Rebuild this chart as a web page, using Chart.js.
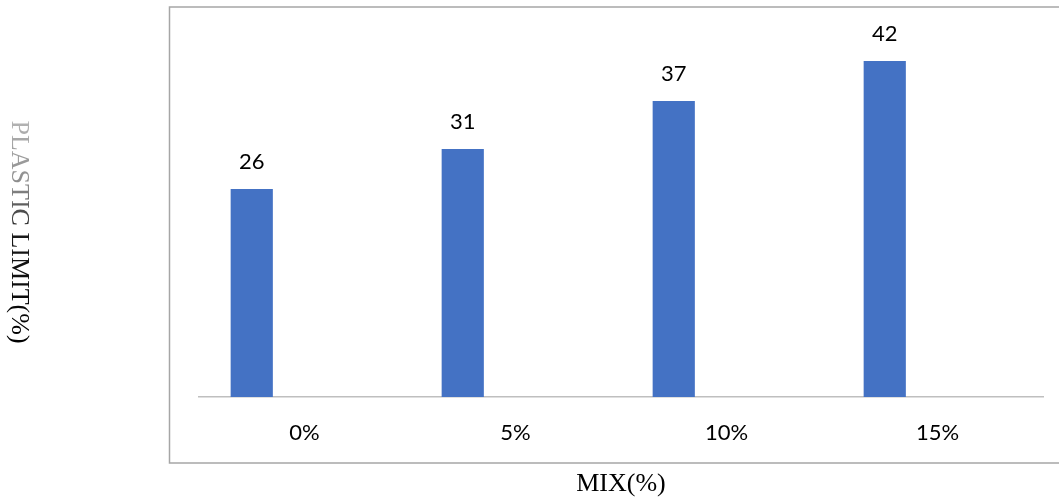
<!DOCTYPE html>
<html>
<head>
<meta charset="utf-8">
<script src="https://cdn.jsdelivr.net/npm/chart.js@4/dist/chart.umd.min.js"></script>
<style>
html,body{margin:0;padding:0;background:#fff;}
#wrap{width:1059px;height:499px;position:relative;}
</style>
</head>
<body>
<div id="wrap"><canvas id="c" width="1059" height="499"></canvas></div>
<script>
const categories = ['0%', '5%', '10%', '15%'];
const plasticLimit = [26, 31, 37, 42];
const emptySeries = [null, null, null, null];
const xTitle = 'MIX(%)';
const yTitle = 'PLASTIC LIMIT(%)';

const decor = {
  id: 'decor',
  beforeDraw(chart) {
    const ctx = chart.ctx;
    ctx.save();
    ctx.strokeStyle = '#a6a6a6';
    ctx.lineWidth = 1.5;
    ctx.beginPath();
    ctx.moveTo(1070, 7);
    ctx.lineTo(169.5, 7);
    ctx.lineTo(169.5, 463);
    ctx.lineTo(1070, 463);
    ctx.stroke();
    ctx.restore();
  },
  afterDraw(chart) {
    const ctx = chart.ctx;
    const ca = chart.chartArea;
    ctx.save();
    ctx.font = '26px "Liberation Serif"';
    ctx.fillStyle = '#000';
    ctx.textAlign = 'center';
    ctx.textBaseline = 'middle';
    ctx.fillText(xTitle, (ca.left + ca.right) / 2, 484);
    ctx.translate(19, 232);
    ctx.rotate(Math.PI / 2);
    const w = ctx.measureText(yTitle).width;
    const g = ctx.createLinearGradient(-w / 2, 0, w / 2, 0);
    g.addColorStop(0, '#b4b4b4');
    g.addColorStop(0.3, '#8a8a8a');
    g.addColorStop(0.5, '#1a1a1a');
    g.addColorStop(1, '#000');
    ctx.fillStyle = g;
    ctx.fillText(yTitle, 0, 0);
    ctx.restore();
  },
  afterDatasetsDraw(chart) {
    const ctx = chart.ctx;
    const meta = chart.getDatasetMeta(0);
    ctx.save();
    ctx.font = '22px Lato';
    ctx.fillStyle = '#000';
    ctx.textAlign = 'center';
    ctx.textBaseline = 'middle';
    meta.data.forEach((el, i) => {
      ctx.fillText(String(plasticLimit[i]), el.x, el.y - 27);
    });
    ctx.restore();
  }
};

new Chart(document.getElementById('c'), {
  type: 'bar',
  data: {
    labels: categories,
    datasets: [
      { label: 'PLASTIC LIMIT', data: plasticLimit, backgroundColor: '#4472C4', categoryPercentage: 1.0, barPercentage: 0.4 },
      { label: 'empty', data: emptySeries, backgroundColor: '#ED7D31', categoryPercentage: 1.0, barPercentage: 0.4 }
    ]
  },
  options: {
    responsive: false,
    animation: false,
    layout: { padding: { left: 199, right: 16, top: 13, bottom: 0 } },
    plugins: { legend: { display: false }, tooltip: { enabled: false } },
    scales: {
      y: { display: false, min: 0, max: 48 },
      x: {
        grid: { display: false, drawTicks: false },
        border: { display: true, color: '#bfbfbf', width: 1.5 },
        ticks: { font: { family: 'Lato', size: 22 }, color: '#000', padding: 23, maxRotation: 0 },
        afterFit(s) { s.height = 102; }
      }
    }
  },
  plugins: [decor]
});
</script>
</body>
</html>
